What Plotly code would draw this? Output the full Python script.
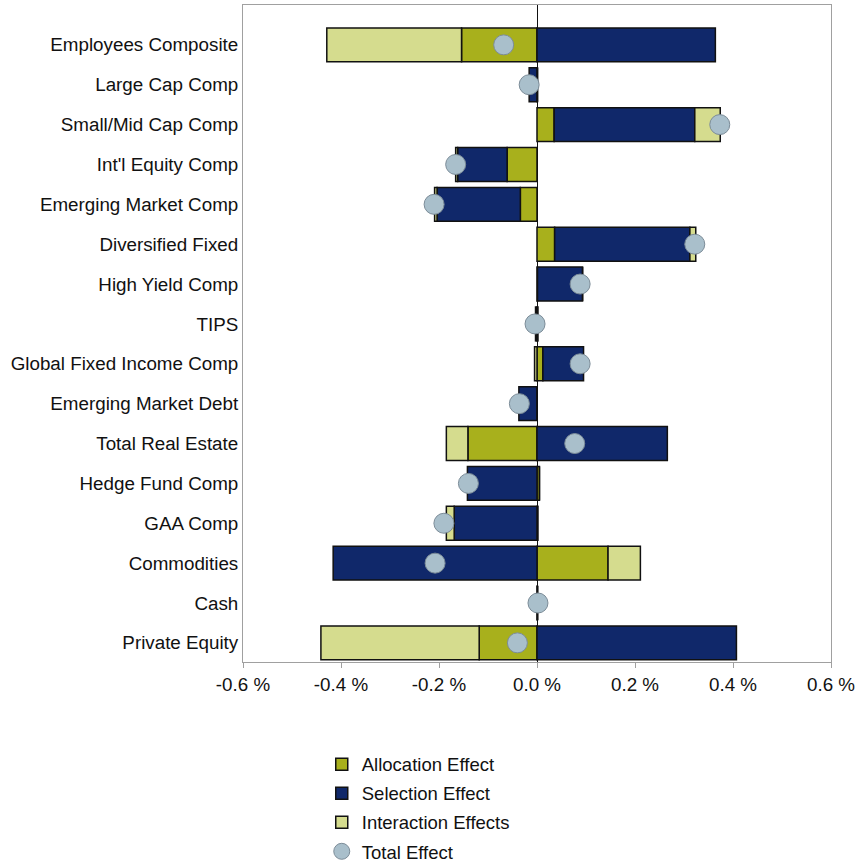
import plotly.graph_objects as go

categories = ["Employees Composite", "Large Cap Comp", "Small/Mid Cap Comp", "Int'l Equity Comp",
              "Emerging Market Comp", "Diversified Fixed", "High Yield Comp", "TIPS",
              "Global Fixed Income Comp", "Emerging Market Debt", "Total Real Estate",
              "Hedge Fund Comp", "GAA Comp", "Commodities", "Cash", "Private Equity"]

allocation = [-0.154, 0.001, 0.035, -0.061, -0.034, 0.036, 0.001, -0.003,
              0.012, 0.0, -0.141, 0.005, 0.002, 0.145, 0.001, -0.118]
selection = [0.364, -0.016, 0.287, -0.101, -0.170, 0.276, 0.092, 0.0,
             0.083, -0.037, 0.266, -0.142, -0.169, -0.416, 0.0, 0.407]
interaction = [-0.275, 0.0, 0.052, -0.004, -0.005, 0.012, 0.0, 0.002,
               -0.005, 0.0, -0.044, 0.0, -0.016, 0.066, 0.0, -0.323]
total = [-0.068, -0.016, 0.373, -0.166, -0.210, 0.322, 0.088, -0.004,
         0.088, -0.036, 0.077, -0.140, -0.190, -0.208, 0.002, -0.040]

x_tickvals = [-0.6, -0.4, -0.2, 0.0, 0.2, 0.4, 0.6]
x_ticktext = ["-0.6 %", "-0.4 %", "-0.2 %", "0.0 %", "0.2 %", "0.4 %", "0.6 %"]

ypos = list(range(len(categories)))

fig = go.Figure()
bar_line = dict(color="#111111", width=1.5)
fig.add_trace(go.Bar(y=ypos, x=allocation, orientation="h", name="Allocation Effect",
                     legendgroup="a", marker=dict(color="#A8B01C", line=bar_line), width=0.85))
fig.add_trace(go.Bar(y=ypos, x=selection, orientation="h", name="Selection Effect",
                     legendgroup="b", marker=dict(color="#10286A", line=bar_line), width=0.85))
fig.add_trace(go.Bar(y=ypos, x=interaction, orientation="h", name="Interaction Effects",
                     legendgroup="c", marker=dict(color="#D5DC8E", line=bar_line), width=0.85))
fig.add_trace(go.Scatter(y=ypos, x=total, mode="markers", name="Total Effect",
                         legendgroup="d",
                         marker=dict(color="#A9BFCB", size=20,
                                     line=dict(color="#7C8C98", width=1))))

fig.update_layout(
    width=858, height=864,
    barmode="relative",
    plot_bgcolor="white", paper_bgcolor="white",
    margin=dict(l=243, r=27, t=5, b=202, autoexpand=False),
    font=dict(family="Liberation Sans, Arial, sans-serif", size=18.8, color="#111111"),
    showlegend=True,
    legend=dict(xref="container", yref="container", x=0.375, y=0.137,
                xanchor="left", yanchor="top",
                font=dict(size=18.5), traceorder="grouped", itemsizing="trace",
                tracegroupgap=2, bgcolor="rgba(0,0,0,0)"),
)
fig.update_xaxes(range=[-0.6, 0.6], tickvals=x_tickvals, ticktext=x_ticktext,
                 showgrid=False, zeroline=True, zerolinecolor="#111111", zerolinewidth=1,
                 showline=True, linecolor="#A0A0A0", linewidth=1, mirror=True,
                 ticks="outside", ticklen=5, tickcolor="#A0A0A0", tickfont=dict(size=18.8))
fig.update_yaxes(range=[15.48, -1.0], tickvals=ypos, ticktext=categories,
                 showgrid=False, zeroline=False,
                 showline=True, linecolor="#A0A0A0", linewidth=1, mirror=True,
                 ticks="", tickfont=dict(size=18.8), ticklabelstandoff=0)

fig.write_html("out.html", config={"displayModeBar": False},
               post_script="document.body.style.margin='0px';document.body.style.padding='0px';")
